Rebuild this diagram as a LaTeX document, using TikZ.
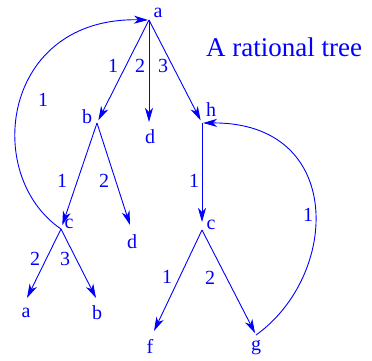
\documentclass[tikz,border=0pt]{standalone}
\usepackage{fontspec}
\setmainfont{Liberation Serif}
\usetikzlibrary{arrows.meta}
\tikzstyle{arrow} = [draw=blue, line width=0.9pt, -{Stealth[length=14pt,width=8pt,inset=4pt]}]
\tikzstyle{lbl} = [text=blue, inner sep=0pt, font=\rmfamily\fontsize{20}{20}\selectfont]
\tikzstyle{title} = [text=blue, inner sep=0pt, font=\rmfamily\fontsize{27}{27}\selectfont]
\begin{document}
\begin{tikzpicture}[x=1pt, y=-1pt]
\useasboundingbox (0,0) rectangle (372,360);

% Tree points
\coordinate (a) at (149,20);
\coordinate (b) at (97,123);
\coordinate (d1) at (149,122);
\coordinate (h) at (202,123);
\coordinate (c1) at (61,229);
\coordinate (d2) at (130,225);
\coordinate (a2) at (27,298);
\coordinate (b2) at (96,298);
\coordinate (c2) at (202,230);
\coordinate (f) at (154,331);
\coordinate (g) at (256,335);

% Vertex names
\node (a_name) [lbl] at (158,13) {a};
\node (b_name) [lbl] at (87,117) {b};
\node (d1_name) [lbl] at (150,137) {d};
\node (h_name) [lbl] at (211,110) {h};
\node (c1_name) [lbl] at (69,224) {c};
\node (d2_name) [lbl] at (132,242) {d};
\node (a2_name) [lbl] at (26,313) {a};
\node (b2_name) [lbl] at (97,313) {b};
\node (c2_name) [lbl] at (211,225) {c};
\node (f_name) [lbl] at (150,346) {f};
\node (g_name) [lbl] at (256,348) {g};

\node (caption) [title] at (284,47) {A rational tree};

% Edges
\draw [arrow, shorten >=3pt] (a) -- (b);
\draw [arrow] (a) -- (d1);
\draw [arrow, shorten >=3pt] (a) -- (h);
\draw [arrow, shorten >=4pt] (b) -- (c1);
\draw [arrow] (b) -- (d2);
\draw [arrow, shorten >=8pt] (h) -- (c2);
\draw [arrow] (c1) -- (a2);
\draw [arrow] (c1) -- (b2);
\draw [arrow] (c2) -- (f);
\draw [arrow, shorten >=2pt] (c2) -- (g);

% Back links
\draw [arrow, shorten >=1pt] (c1) .. controls (-18,175) and (2,17) .. (a);
\draw [arrow, shorten >=1pt] (g) .. controls (340,275) and (345,122) .. (h);

% Edge numbers
\node (ab_num) [lbl] at (113,66) {1};
\node (ad_num) [lbl] at (140,66) {2};
\node (ah_num) [lbl] at (163,66) {3};
\node (ca_loop_num) [lbl] at (43,100) {1};
\node (bc_num) [lbl] at (62,181) {1};
\node (bd_num) [lbl] at (104,181) {2};
\node (hc_num) [lbl] at (194,181) {1};
\node (gh_loop_num) [lbl] at (308,215) {1};
\node (ca_num) [lbl] at (35,259) {2};
\node (cb_num) [lbl] at (65,259) {3};
\node (cf_num) [lbl] at (167,277) {1};
\node (cg_num) [lbl] at (210,278) {2};

\end{tikzpicture}
\end{document}
